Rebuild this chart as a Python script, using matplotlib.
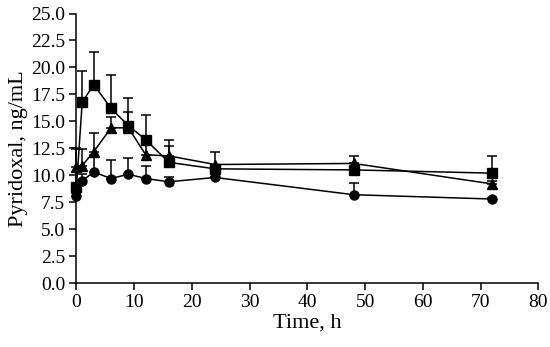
import matplotlib.pyplot as plt

# sampling times (h)
time_h = [0, 1, 3, 6, 9, 12, 16, 24, 48, 72]

# pyridoxal (ng/mL), mean and upper SD for each group
sq_mean = [8.9, 16.8, 18.4, 16.2, 14.6, 13.3, 11.2, 10.6, 10.5, 10.2]
sq_err = [3.6, 2.9, 3.0, 3.1, 2.6, 2.3, 1.5, 0.3, 0.4, 1.6]
tri_mean = [10.8, 10.9, 12.2, 14.4, 14.4, 11.9, 11.8, 11.0, 11.1, 9.2]
tri_err = [1.65, 1.55, 1.75, 1.0, 1.5, 1.0, 1.5, 1.2, 0.65, 0.3]
circ_mean = [8.1, 9.5, 10.3, 9.7, 10.1, 9.7, 9.4, 9.8, 8.2, 7.8]
circ_err = [0.3, 0.6, 1.55, 1.7, 1.5, 1.2, 0.4, 0.3, 1.1, 0.1]

plt.rcParams['font.family'] = ['Liberation Serif', 'DejaVu Serif']

fig = plt.figure(figsize=(5.5, 3.47), dpi=100)
ax = fig.add_axes([0.139, 0.184, 0.840, 0.777])

series = [
    (sq_mean, sq_err, 's', 6.5),
    (tri_mean, tri_err, '^', 7.5),
    (circ_mean, circ_err, 'o', 6.5),
]
for mean, err, mk, ms in series:
    ax.errorbar(time_h, mean, yerr=[[0] * len(err), err], fmt='-', marker=mk,
                ms=ms, color='black', lw=1.1, elinewidth=1.1, capsize=3.6,
                capthick=1.1, clip_on=False)

ax.set_xlim(0, 80)
ax.set_ylim(0, 25)
ax.set_xticks(range(0, 81, 10))
ax.set_yticks([i * 2.5 for i in range(11)])
ax.set_yticklabels([f'{i * 2.5:.1f}' for i in range(11)])

for side in ('top', 'right'):
    ax.spines[side].set_visible(False)
for side in ('left', 'bottom'):
    ax.spines[side].set_linewidth(1.1)
ax.tick_params(direction='out', length=5, width=1.1, labelsize=14, pad=3)

ax.set_xlabel('Time, h', fontsize=16, labelpad=2)
ax.set_ylabel('Pyridoxal, ng/mL', fontsize=16, labelpad=2)

fig.savefig('out.png', dpi=100)
